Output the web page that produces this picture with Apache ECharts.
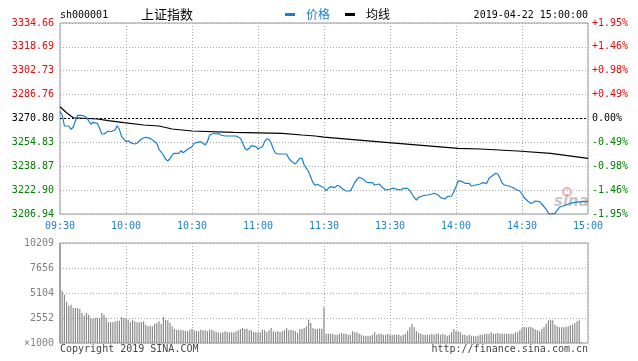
<!DOCTYPE html>
<html><head><meta charset="utf-8">
<script src="https://cdn.jsdelivr.net/npm/echarts@6/dist/echarts.min.js"></script>
<style>html,body{margin:0;padding:0;background:#fff}#c{width:638px;height:361px}</style>
</head><body><div id="c"></div>
<script>
// ---------- data ----------
const timeLabels = ['09:30','10:00','10:30','11:00','11:30','13:30','14:00','14:30','15:00'];
const priceTicks = ['3206.94','3222.90','3238.87','3254.83','3270.80','3286.76','3302.73','3318.69','3334.66'];
const pctTicks = ['-1.95%','-1.46%','-0.98%','-0.49%','0.00%','+0.49%','+0.98%','+1.46%','+1.95%'];
const volTicks = ['×1000','2552','5104','7656','10209'];
const prevClose = 3270.80;
const priceMin = 3206.94, priceMax = 3334.66;
const volMax = 10209;

const priceMinutes = [0,1,2,4,5,6,7,8,10,12,13,14,15,17,18,19,20,22,23,25,26,27,28,30,31,32,34,35,37,39,41,42,44,45,47,48,49,50,51,52,54,55,56,58,60,61,62,64,65,66,67,68,70,71,72,73,75,80,82,83,84,85,86,87,89,90,91,92,93,94,95,96,97,98,99,103,104,105,107,108,109,110,111,112,113,114,115,116,117,119,120,121,122,123,125,126,127,128,130,132,133,134,135,136,138,139,140,142,143,145,146,147,148,150,151,152,153,155,156,158,159,160,161,162,163,164,165,167,169,170,172,173,175,176,178,179,180,181,183,184,186,187,189,191,192,194,195,197,198,199,200,201,202,204,206,207,209,210,211,213,214,215,216,218,219,221,222,223,225,226,227,230,232,234,237,240];
const priceValues = [3275.35,3273.14,3265.78,3265.78,3263.58,3264.92,3269.33,3272.94,3272.94,3271.60,3269.33,3266.92,3268.26,3267.59,3264.25,3260.44,3260.44,3262.44,3261.97,3263.11,3265.99,3263.58,3258.63,3255.29,3255.96,3254.62,3253.75,3254.22,3257.09,3258.23,3257.56,3256.42,3254.22,3250.20,3246.39,3243.52,3242.38,3244.19,3246.39,3247.53,3247.53,3249.27,3247.93,3250.20,3251.94,3254.22,3254.62,3255.29,3254.22,3253.08,3255.29,3259.77,3260.90,3260.44,3260.90,3259.77,3259.10,3259.10,3257.56,3254.62,3250.87,3249.74,3250.87,3252.61,3251.94,3250.40,3251.27,3251.94,3255.29,3257.09,3256.89,3254.22,3250.20,3247.53,3247.06,3247.06,3244.19,3242.38,3240.37,3242.38,3244.19,3244.19,3239.71,3237.50,3235.22,3231.48,3227.87,3226.13,3226.80,3225.19,3224.66,3222.52,3224.12,3225.19,3224.53,3226.13,3225.66,3224.12,3222.32,3222.32,3225.19,3227.87,3230.14,3231.48,3230.14,3228.54,3227.87,3227.87,3226.33,3227.00,3225.66,3224.12,3222.99,3223.46,3224.12,3224.12,3223.46,3222.99,3224.12,3224.12,3222.52,3220.31,3218.11,3216.30,3218.11,3218.51,3219.18,3219.64,3220.31,3220.78,3219.64,3217.84,3216.97,3218.51,3218.98,3221.85,3225.19,3229.21,3228.54,3227.47,3227.47,3225.66,3226.33,3227.00,3227.87,3227.47,3230.81,3233.02,3234.16,3233.69,3230.81,3227.47,3226.33,3225.66,3224.53,3223.46,3222.32,3220.31,3217.84,3215.16,3214.09,3214.49,3215.63,3215.16,3213.63,3210.08,3207.41,3207.00,3207.41,3209.61,3211.42,3212.96,3214.09,3214.76,3215.16,3215.16];

const avgMinutes = [0,3,6,17,22,29,38,45,51,60,79,101,110,116,120,148,181,191,208,223,240];
const avgValues = [3278.69,3274.68,3271.30,3270.47,3269.33,3267.99,3266.45,3265.78,3263.78,3262.44,3261.57,3260.90,3259.77,3259.10,3258.30,3254.89,3250.87,3250.40,3249.07,3247.53,3244.19];

const volumeValues = [
 10209,5275,4934,4220,3811,3913,3573,3573,3573,3471,
 3063,2790,3063,2893,2552,2450,2552,2552,2552,3063,
 2893,2552,2110,2110,2110,2212,2280,2280,2654,2552,
 2552,2382,2110,2382,2212,2110,2110,2110,2212,1872,
 1702,1770,1702,1940,2042,2212,1940,2654,2382,2314,
 2042,1702,1429,1361,1361,1361,1293,1259,1191,1361,
 1463,1293,1259,1191,1361,1293,1293,1191,1361,1361,
 1259,1123,1089,1021,1089,1191,1123,1089,1089,1089,
 1191,1293,1429,1531,1429,1463,1293,1293,1123,1089,
 1089,1089,1361,1293,1123,1293,1531,1191,1123,1191,
 1123,1191,1293,1531,1293,1361,1293,1191,1021,1429,
 1429,1531,1702,2382,2042,1531,1429,1429,1460,1460,
 3634,
 953,953,953,953,851,851,953,1021,953,953,
 851,851,1191,1089,1089,953,851,749,749,749,
 749,851,1089,851,953,953,851,851,953,851,
 851,851,851,851,749,851,953,1259,1599,1974,
 1599,1191,1021,953,851,851,851,851,953,851,
 953,953,851,953,851,749,851,1089,1429,1191,
 1191,1089,851,851,749,851,749,749,681,749,
 851,851,953,953,953,1089,953,953,1021,953,
 953,953,953,953,953,953,1089,1089,1293,1531,
 1633,1599,1599,1667,1531,1395,1293,1191,1429,1633,
 1974,2314,2382,2314,1872,1702,1599,1599,1599,1633,
 1702,1804,1872,2042,2212,2314,100,0,0,0
];

// ---------- chart ----------
const MONO = '"DejaVu Sans Mono", "Liberation Mono", monospace';
const CJK = '"Noto Sans CJK SC", sans-serif';
const RED = '#ff0000', GREEN = '#008000', BLUE = '#1a7fd0';
const priceStep = (priceMax - priceMin) / 8;
const volStep = volMax / 4;
const idx = (v, min, step) => Math.round((v - min) / step);
const tickColor = k => k < 4 ? GREEN : (k === 4 ? '#000' : RED);
const gridDot = {show: true, lineStyle: {color: '#aaa', type: [1, 2], width: 1}};

const chart = echarts.init(document.getElementById('c'), null, {renderer: 'canvas'});
chart.setOption({
  animation: false,
  backgroundColor: '#fff',
  grid: [
    {left: 60, right: 50, top: 23, height: 191, show: true, borderColor: '#999', borderWidth: 1},
    {left: 60, right: 50, top: 243, height: 100, show: true, borderColor: '#999', borderWidth: 1}
  ],
  xAxis: [
    {gridIndex: 0, type: 'value', min: 0, max: 240, interval: 30,
     axisLine: {show: false}, axisTick: {show: false}, splitLine: gridDot,
     axisLabel: {margin: 7, color: BLUE, fontFamily: MONO, fontSize: 10,
       formatter: v => timeLabels[Math.round(v / 30)] || ''}},
    {gridIndex: 1, type: 'value', min: 0, max: 240, interval: 30,
     axisLine: {show: false}, axisTick: {show: false}, splitLine: gridDot,
     axisLabel: {show: false}}
  ],
  yAxis: [
    {gridIndex: 0, type: 'value', min: priceMin, max: priceMax, interval: priceStep, position: 'left',
     axisLine: {show: false}, axisTick: {show: false}, splitLine: gridDot,
     axisLabel: {margin: 6, fontFamily: MONO, fontSize: 10,
       formatter: v => priceTicks[idx(v, priceMin, priceStep)] || '',
       color: v => tickColor(idx(v, priceMin, priceStep))}},
    {gridIndex: 0, type: 'value', min: priceMin, max: priceMax, interval: priceStep, position: 'right',
     axisLine: {show: false}, axisTick: {show: false}, splitLine: {show: false},
     axisLabel: {margin: 4, fontFamily: MONO, fontSize: 10,
       formatter: v => pctTicks[idx(v, priceMin, priceStep)] || '',
       color: v => tickColor(idx(v, priceMin, priceStep))}},
    {gridIndex: 1, type: 'value', min: 0, max: volMax, interval: volStep, position: 'left',
     axisLine: {show: false}, axisTick: {show: false}, splitLine: gridDot,
     axisLabel: {margin: 6, fontFamily: MONO, fontSize: 10, color: '#808080',
       formatter: v => volTicks[idx(v, 0, volStep)] || ''}}
  ],
  series: [
    {name: '价格', type: 'line', xAxisIndex: 0, yAxisIndex: 0, showSymbol: false, clip: true,
     data: priceMinutes.map((m, i) => [m, priceValues[i]]),
     lineStyle: {color: BLUE, width: 1.2}, z: 5,
     markLine: {silent: true, symbol: 'none', label: {show: false},
       lineStyle: {color: '#000', type: [2, 2], width: 1}, data: [{yAxis: prevClose}]}},
    {name: '均线', type: 'line', xAxisIndex: 0, yAxisIndex: 0, showSymbol: false,
     data: avgMinutes.map((m, i) => [m, avgValues[i]]),
     lineStyle: {color: '#000', width: 1.2}, z: 4},
    {name: 'vol', type: 'bar', xAxisIndex: 1, yAxisIndex: 2, barWidth: 1.2,
     data: volumeValues.map((v, i) => [i, v]),
     itemStyle: {color: '#8a8a8a'}}
  ],
  graphic: [
    {type: 'text', left: 60, top: 10, style: {text: 'sh000001', font: '10px ' + MONO, fill: '#000'}},
    {type: 'text', left: 141, top: 8, style: {text: '上证指数', font: '13px ' + CJK, fill: '#000'}},
    {type: 'rect', shape: {x: 285, y: 13, width: 10, height: 3}, style: {fill: BLUE}},
    {type: 'text', left: 306, top: 8, style: {text: '价格', font: '12px ' + CJK, fill: BLUE}},
    {type: 'rect', shape: {x: 345, y: 13, width: 10, height: 3}, style: {fill: '#000'}},
    {type: 'text', left: 366, top: 8, style: {text: '均线', font: '12px ' + CJK, fill: '#000'}},
    {type: 'text', right: 50, top: 10, style: {text: '2019-04-22 15:00:00', font: '10px ' + MONO, fill: '#000'}},
    {type: 'text', left: 60, top: 344, style: {text: 'Copyright 2019 SINA.COM', font: '10px ' + MONO, fill: '#444'}},
    {type: 'text', right: 50, top: 344, style: {text: 'http://finance.sina.com.cn', font: '10px ' + MONO, fill: '#444'}},
    {type: 'circle', shape: {cx: 567, cy: 192, r: 4}, style: {fill: 'none', stroke: 'rgba(240,120,120,0.6)', lineWidth: 2}, z: 1},
    {type: 'text', left: 554, top: 195, style: {text: 'sina', font: 'italic bold 15px "DejaVu Sans", sans-serif', fill: 'rgba(150,150,150,0.55)'}, z: 1}
  ]
});
</script></body></html>
